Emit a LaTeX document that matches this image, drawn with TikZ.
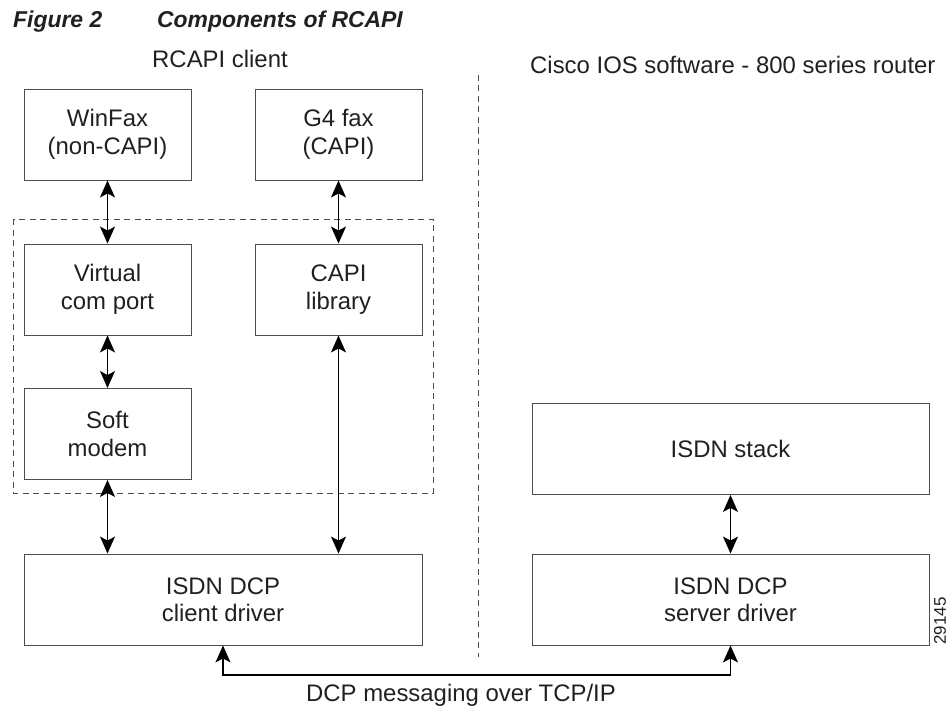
\documentclass[tikz,border=0pt]{standalone}
\usepackage{fontspec}
\setmainfont{Liberation Sans}
\usetikzlibrary{arrows.meta}
\definecolor{inkcol}{HTML}{231F20}
\definecolor{boxcol}{HTML}{4D4D4D}
\tikzset{
  block/.style={draw=boxcol,line width=0.9bp,align=center,inner sep=0pt,
    minimum width=167bp,minimum height=91bp,text=inkcol},
  wideblock/.style={block,minimum width=397bp},
  link/.style={{Stealth[length=17bp,width=15bp,inset=4bp]}-{Stealth[length=17bp,width=15bp,inset=4bp]},
    line width=1.4bp,draw=black},
  groupline/.style={draw=boxcol,line width=0.8bp,dash pattern=on 6bp off 4.5bp},
}
\begin{document}
\begin{tikzpicture}[x=1bp,y=-1bp,font=\fontsize{24}{27.5}\selectfont]
\useasboundingbox (0,0) rectangle (950,708);
%% headings
\node[anchor=base west,inner sep=0pt,text=inkcol,font=\fontsize{23}{26}\selectfont\bfseries\itshape]
  (fignum) at (13,28) {Figure 2};
\node[anchor=base west,inner sep=0pt,text=inkcol,font=\fontsize{23}{26}\selectfont\bfseries\itshape]
  (figtitle) at (157,28) {Components of RCAPI};
\node[anchor=base,inner sep=0pt,text=inkcol] (clienthead) at (220,68) {RCAPI client};
\node[anchor=base west,inner sep=0pt,text=inkcol] (routerhead) at (530,74) {Cisco IOS software - 800 series router};
%% divider
\draw[groupline] (478,75) -- (478,657);
%% client side
\draw[groupline] (13,219) rectangle (433,493);
\node[block] (winfax) at (107.5,134.5) {WinFax\\(non-CAPI)};
\node[block] (gfax) at (338.5,134.5) {G4 fax\\(CAPI)};
\node[block] (vcom) at (107.5,289.5) {Virtual\\com port};
\node[block] (capilib) at (338.5,289.5) {CAPI\\library};
\node[block] (softmodem) at (107.5,434) {Soft\\modem};
\node[block,minimum width=398bp] (clientdrv) at (223,599.5) {ISDN DCP\\client driver};
%% router side
\node[wideblock] (isdnstack) at (730.5,449) {ISDN stack};
\node[wideblock] (serverdrv) at (730.5,599.5) {ISDN DCP\\server driver};
%% connectors
\draw[link] (winfax.south) -- (vcom.north);
\draw[link] (vcom.south) -- (softmodem.north);
\draw[link] (softmodem.south) -- (softmodem.south |- clientdrv.north);
\draw[link] (gfax.south) -- (capilib.north);
\draw[link] (capilib.south) -- (capilib.south |- clientdrv.north);
\draw[link] (isdnstack.south) -- (serverdrv.north);
\coordinate (msgleft) at (223,675);
\coordinate (msgright) at (730.5,675);
\draw[link] (clientdrv.south) -- (msgleft) -- (msgright) -- (serverdrv.south);
\node[anchor=base,inner sep=0pt,text=inkcol] (msglabel) at (461,701) {DCP messaging over TCP/IP};
\node[rotate=90,inner sep=0pt,text=inkcol,font=\fontsize{17}{19}\selectfont] (artnum) at (940,621) {29145};
\end{tikzpicture}
\end{document}
